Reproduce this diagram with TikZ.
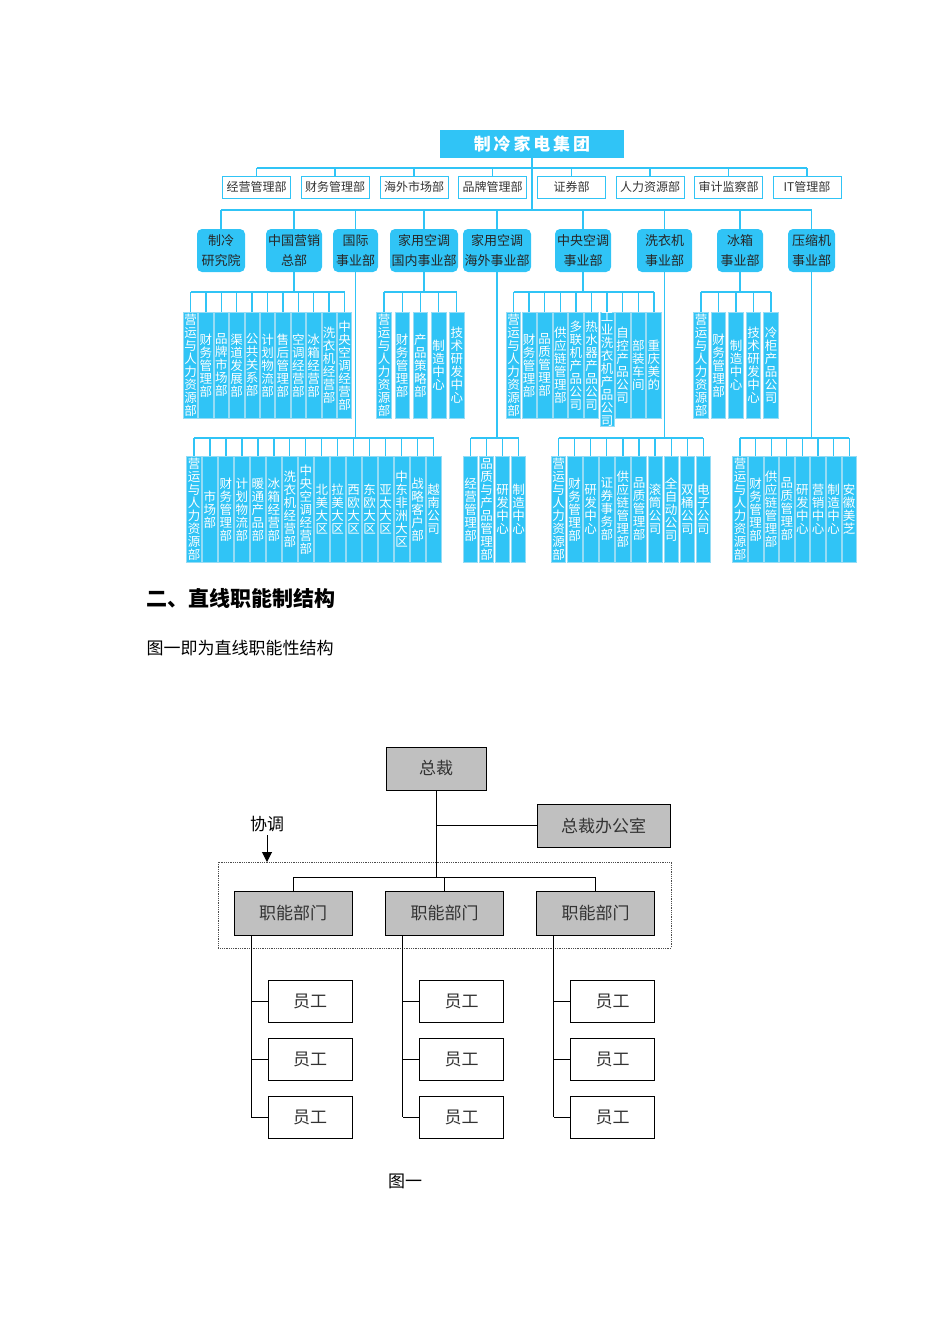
\documentclass[tikz,border=0pt]{standalone}
\usepackage{fontspec}
\usetikzlibrary{arrows.meta}
\setmainfont{Noto Sans CJK SC}
\XeTeXlinebreaklocale "zh"
\XeTeXlinebreakskip=0pt plus 1pt
\definecolor{cy}{RGB}{48,196,246}
\definecolor{cyl}{RGB}{150,220,245}
\definecolor{gbox}{RGB}{192,192,192}
\tikzset{
 ln/.style={draw=cy,line width=1.3pt},
 title/.style={fill=cy,text=white,font=\bfseries\fontsize{17}{20}\selectfont,minimum width=184pt,minimum height=28pt,inner sep=0pt},
 dept/.style={draw=cy,line width=1pt,fill=white,minimum height=22pt,inner sep=0pt,font=\fontsize{12}{14}\selectfont,text=black!80},
 unit/.style={fill=cy,rounded corners=5pt,minimum height=43pt,inner sep=0pt,align=center,font=\fontsize{13}{20}\selectfont,text=black!85},
 vbox/.style={fill=cy,draw=cyl,line width=0.6pt,text=white,text width=12.5pt,inner xsep=1pt,inner ysep=0pt,align=center,font=\fontsize{12.5}{13}\selectfont},
 gb/.style={fill=gbox,draw=black,line width=1pt,inner sep=0pt,font=\fontsize{17}{20}\selectfont,text=black!80},
 bl/.style={draw=black,line width=1pt},
}
\begin{document}
\begin{tikzpicture}[x=1pt,y=-1pt]
\useasboundingbox (0,0) rectangle (950,1344);
\node[title] (T) at (532,144) {制\,冷\,家\,电\,集\,团};
% row 2
\coordinate (b2) at (0,168);
\foreach \t/\x [count=\i] in {经营管理部/256.5,财务管理部/335,海外市场部/414,品牌管理部/492.5,证券部/571.5,人力资源部/650,审计监察部/728.5,IT管理部/807}{
 \node[dept,minimum width=68pt] (D\i) at (\x,187) {\t};
 \draw[ln] (D\i.north) -- (D\i.north |- b2);
}
\draw[ln] (D1.north |- b2) -- (D8.north |- b2);
% row 3
\coordinate (b3) at (0,210);
\draw[ln] (T.south) -- (T.south |- b3);
\foreach \t/\x/\w [count=\i] in {制冷\\研究院/221/48,中国营销\\总部/294/56,国际\\事业部/355.5/45,家用空调\\国内事业部/424/68,家用空调\\海外事业部/497/68,中央空调\\事业部/583/56,洗衣机\\事业部/664.5/55,冰箱\\事业部/740/46,压缩机\\事业部/811.5/47}{
 \node[unit,minimum width=\w pt] (P\i) at (\x,250.5) {\t};
 \draw[ln] (P\i.north) -- (P\i.north |- b3);
}
\draw[ln] (P1.north |- b3) -- (P9.north |- b3);
% groups row 4
\newcommand{\grp}[7]{% name parent x0 pitch ytop ybar list
 \coordinate (#1bar) at (0,#6);
 \foreach \t [count=\i] in {#7}{
  \node[vbox,minimum height=106pt,anchor=north] (#1\i) at ({#3+(\i-1)*#4},#5) {\t};
  \draw[ln] (#1\i.north) -- (#1\i.north |- #1bar);
  \xdef\grplast{\i}
 }
 \draw[ln] (#11.north |- #1bar) -- (#1\grplast.north |- #1bar);
 \draw[ln] (#2.south) -- (#2.south |- #1bar);
}
\grp{A}{P2}{190.5}{15.4}{312}{292}{营运与人力资源部,财务管理部,品牌市场部,渠道发展部,公共关系部,计划物流部,售后管理部,空调经营部,冰箱经营部,洗衣机经营部,中央空调经营部}
\grp{B}{P4}{384}{18.2}{312}{292}{营运与人力资源部,财务管理部,产品策略部,制造中心,技术研发中心}
\grp{C}{P6}{513.5}{15.6}{312}{292}{营运与人力资源部,财务管理部,品质管理部,供应链管理部,多联机产品公司,热水器产品公司,工业洗衣机产品公司,自控产品公司,部装车间,重庆美的}
\grp{D}{P8}{701}{17.5}{312}{292}{营运与人力资源部,财务管理部,制造中心,技术研发中心,冷柜产品公司}
\grp{E}{P3}{194}{15.97}{456}{438}{营运与人力资源部,市场部,财务管理部,计划物流部,暖通产品部,冰箱经营部,洗衣机经营部,中央空调经营部,北美大区,拉美大区,西欧大区,东欧大区,亚太大区,中东非洲大区,战略客户部,越南公司}
\grp{F}{P5}{470.5}{16}{456}{438}{经营管理部,品质与产品管理部,研发中心,制造中心}
\grp{G}{P7}{558.5}{16.1}{456}{438}{营运与人力资源部,财务管理部,研发中心,证券事务部,供应链管理部,品质管理部,滚筒公司,全自动公司,双桶公司,电子公司}
\grp{H}{P9}{740}{15.6}{456}{438}{营运与人力资源部,财务管理部,供应链管理部,品质管理部,研发中心,营销中心,制造中心,安徽美芝}
% text
\node[anchor=west,font=\bfseries\fontsize{21}{24}\selectfont] (h1) at (143,598) {二、直线职能制结构};
\node[anchor=west,font=\fontsize{17}{20}\selectfont] (h2) at (143,648) {图一即为直线职能性结构};
% bottom diagram
\node[gb,minimum width=100pt,minimum height=43pt] (Z) at (436,768.5) {总裁};
\node[gb,minimum width=133pt,minimum height=43pt] (O) at (603.5,825.5) {总裁办公室};
\draw[densely dotted,line width=0.8pt,black!70] (218,862) rectangle (671,948);
\node[font=\fontsize{17}{20}\selectfont] (xt) at (267,824) {协调};
\coordinate (xa) at (267,862);
\draw[bl,-{Triangle[length=10pt,width=10pt]}] (xt.south) -- (xa);
\coordinate (jb) at (0,877);
\foreach \x [count=\i] in {293,444.5,595.5}{
 \node[gb,minimum width=118pt,minimum height=44pt] (F\i) at (\x,913) {职能部门};
 \draw[bl] (F\i.north) -- (F\i.north |- jb);
 \coordinate (L\i) at ({\x-42},935);
 \foreach \y [count=\j] in {1001,1059,1117}{
  \node[gb,fill=white,minimum width=84pt,minimum height=42pt] (E\i\j) at ({\x+17},\y) {员工};
  \draw[bl] (E\i\j.west) -- (E\i\j.west -| L\i);
 }
 \draw[bl] (L\i) -- (L\i |- E\i3.west);
}
\draw[bl] (F1.north |- jb) -- (F3.north |- jb);
\draw[bl] (Z.south) -- (Z.south |- jb);
\draw[bl] (O.west) -- (O.west -| Z.south);
\node[font=\fontsize{17}{20}\selectfont] (cap) at (405,1181) {图一};
\end{tikzpicture}
\end{document}
